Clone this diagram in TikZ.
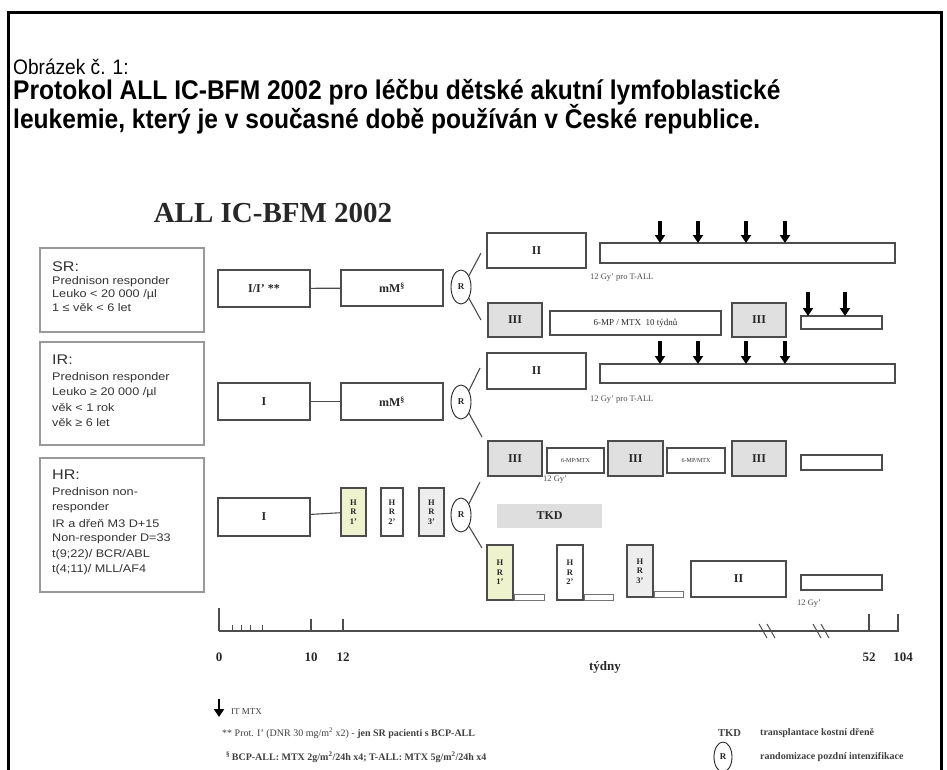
\documentclass[tikz,border=0pt]{standalone}
\usepackage{fontspec}
\setmainfont{Liberation Serif}
\newfontfamily\hdr[FakeStretch=0.91]{Liberation Sans}
\newfontfamily\lsans[FakeStretch=1.15]{Liberation Sans}
\usetikzlibrary{arrows.meta,shapes.geometric}
\definecolor{hryel}{RGB}{238,242,205}
\definecolor{ink}{RGB}{40,40,40}
\begin{document}
\begin{tikzpicture}[x=1pt,y=-1pt,
  bx/.style={draw=black!70, line width=1.1pt, fill=white, inner sep=0pt, text=ink,
             font=\fontsize{12}{12}\selectfont\bfseries},
  gbx/.style={bx, fill=black!12},
  hrbx/.style={bx, fill=hryel, align=center, font=\fontsize{8.5}{9.5}\selectfont\bfseries},
  hrw/.style={hrbx, fill=white},
  hrg/.style={hrbx, fill=black!7},
  sbar/.style={draw=black!55, line width=0.9pt, fill=white, inner sep=0pt, minimum height=6},
  rnd/.style={draw=black!85, ellipse, line width=0.9pt, minimum width=20, minimum height=34,
              inner sep=0pt, fill=white, text=ink, font=\fontsize{9}{9}\selectfont\bfseries},
  conn/.style={draw=black!70, line width=1.1pt},
  itarrow/.style={-{Triangle[length=8pt,width=10pt]}, line width=3.2pt, black},
  grp/.style={draw=black!40, line width=1.2pt, fill=white},
  grpt/.style={anchor=west, inner sep=0pt, text=black!80, font=\lsans\fontsize{11}{11}\selectfont},
  grph/.style={anchor=west, inner sep=0pt, text=black!80, font=\lsans\fontsize{14}{14}\selectfont},
  gy/.style={anchor=west, inner sep=0pt, text=black!70, font=\fontsize{8.5}{8.5}\selectfont},
  tick/.style={draw=black!70, line width=1.1pt},
  tlab/.style={inner sep=0pt, text=ink, font=\fontsize{13}{13}\selectfont\bfseries},
  leg/.style={anchor=west, inner sep=0pt, text=black!75, font=\fontsize{10}{10}\selectfont}
]
\useasboundingbox (0,0) rectangle (947,770);
% frame
\draw[line width=3pt] (8,770) -- (8,13) -- (941,13) -- (941,770);
% header
\node[anchor=west, inner sep=0pt, font=\hdr\fontsize{21}{21}\selectfont] (h1) at (13,67) {Obrázek č. 1:};
\node[anchor=west, inner sep=0pt, font=\hdr\bfseries\fontsize{27}{27}\selectfont] (h2) at (13,92) {Protokol ALL IC-BFM 2002 pro léčbu dětské akutní lymfoblastické};
\node[anchor=west, inner sep=0pt, font=\hdr\bfseries\fontsize{27}{27}\selectfont] (h3) at (13,119) {leukemie, který je v současné době používán v České republice.};
% diagram title
\node[inner sep=0pt, text=ink, font=\fontsize{29}{29}\selectfont\bfseries] (title) at (273,213) {ALL IC-BFM 2002};

% left group boxes
\draw[grp] (40,248) rectangle (204,332);
\node[grph] (sr0) at (52,267) {SR:};
\node[grpt] (sr1) at (52,282) {Prednison responder};
\node[grpt] (sr2) at (52,295) {Leuko < 20 000 /µl};
\node[grpt] (sr3) at (52,308) {1 ≤  věk < 6 let};

\draw[grp] (40,342) rectangle (204,445);
\node[grph] (ir0) at (52,360) {IR:};
\node[grpt] (ir1) at (52,378) {Prednison responder};
\node[grpt] (ir2) at (52,393) {Leuko ≥ 20 000 /µl};
\node[grpt] (ir3) at (52,408) {věk < 1 rok};
\node[grpt] (ir4) at (52,423) {věk ≥ 6 let};

\draw[grp] (40,458) rectangle (204,592);
\node[grph] (hr0) at (52,475) {HR:};
\node[grpt] (hr1) at (52,492) {Prednison non-};
\node[grpt] (hr2) at (52,508) {responder};
\node[grpt] (hr3) at (52,524) {IR a dřeň M3 D+15};
\node[grpt] (hr4) at (52,539) {Non-responder D=33};
\node[grpt] (hr5) at (52,555) {t(9;22)/ BCR/ABL};
\node[grpt] (hr6) at (52,570) {t(4;11)/ MLL/AF4};

% ---------- row SR ----------
\node[bx, minimum width=92, minimum height=37] (b11) at (264,288.5) {I/I’ **};
\node[bx, minimum width=102, minimum height=36] (b12) at (392,288) {mM\textsuperscript{§}};
\draw[conn] (b11) -- (b12);
\node[rnd] (R1) at (461,287) {R};
\coordinate (R1u) at (481,253);
\coordinate (R1d) at (481,320);
\draw[conn] (R1.55) -- (R1u);
\draw[conn] (R1.-55) -- (R1d);
\node[bx, minimum width=99, minimum height=35] (a1) at (536.5,250.5) {II};
\node[bx, minimum width=295, minimum height=20] (a2) at (747.5,253) {};
\foreach \ax in {660,698,746,785} \draw[itarrow] (\ax,221) -- (\ax,243);
\node[gy] (gy1) at (590,278) {12 Gy’ pro T-ALL};
\node[gbx, minimum width=54, minimum height=34] (a3) at (515,320) {III};
\node[bx, minimum width=171, minimum height=24, font=\fontsize{9}{9}\selectfont] (a4) at (635.5,323) {6-MP / MTX\ \ 10 týdnů};
\node[gbx, minimum width=54, minimum height=34] (a5) at (759,320) {III};
\node[bx, minimum width=81, minimum height=13] (a6) at (841.5,322.5) {};
\foreach \ax in {808,845} \draw[itarrow] (\ax,292) -- (\ax,316);

% ---------- row IR ----------
\node[bx, minimum width=92, minimum height=37] (b21) at (264,401.5) {I};
\node[bx, minimum width=102, minimum height=37] (b22) at (392,401.5) {mM\textsuperscript{§}};
\draw[conn] (b21) -- (b22);
\node[rnd] (R2) at (461,402) {R};
\coordinate (R2u) at (480,368);
\coordinate (R2d) at (482,437);
\draw[conn] (R2.55) -- (R2u);
\draw[conn] (R2.-55) -- (R2d);
\node[bx, minimum width=99, minimum height=36] (c1) at (536.5,371) {II};
\node[bx, minimum width=295, minimum height=19] (c2) at (747.5,373.5) {};
\foreach \ax in {660,698,746,785} \draw[itarrow] (\ax,341) -- (\ax,364);
\node[gy] (gy2) at (590,400) {12 Gy’ pro T-ALL};
\node[gbx, minimum width=54, minimum height=35] (c3) at (515,458.5) {III};
\node[bx, minimum width=57, minimum height=25, font=\fontsize{6}{6}\selectfont] (c4) at (575.5,460.5) {6-MP/MTX};
\node[gbx, minimum width=55, minimum height=35] (c5) at (635.5,458.5) {III};
\node[bx, minimum width=58, minimum height=25, font=\fontsize{6}{6}\selectfont] (c6) at (696,460.5) {6-MP/MTX};
\node[gbx, minimum width=54, minimum height=35] (c7) at (759,458.5) {III};
\node[bx, minimum width=81, minimum height=15] (c8) at (841.5,462.5) {};
\node[gy] (gy3) at (543,480) {12 Gy’};

% ---------- row HR ----------
\node[bx, minimum width=92, minimum height=38] (b31) at (264,517) {I};
\node[hrbx, minimum width=25, minimum height=48] (h31) at (353.5,512) {H\\R\\1’};
\node[hrw, minimum width=22, minimum height=48] (h32) at (392,512) {H\\R\\2’};
\node[hrg, minimum width=25, minimum height=48] (h33) at (431.5,512) {H\\R\\3’};
\draw[conn] (b31) -- (h31);
\node[rnd] (R3) at (461,515) {R};
\coordinate (R3u) at (480,482);
\coordinate (R3d) at (482,548);
\draw[conn] (R3.55) -- (R3u);
\draw[conn] (R3.-55) -- (R3d);
\node[fill=black!13, minimum width=105, minimum height=24, inner sep=0pt, text=ink,
      font=\fontsize{12}{12}\selectfont\bfseries] (tkd) at (549.5,516) {TKD};
\node[hrbx, minimum width=26, minimum height=55] (d1) at (500,572.5) {H\\R\\1’};
\node[sbar, minimum width=30, anchor=south west] (d1b) at (d1.south east) {};
\node[hrw, minimum width=26, minimum height=55] (d2) at (570,572.5) {H\\R\\2’};
\node[sbar, minimum width=29, anchor=south west] (d2b) at (d2.south east) {};
\node[hrg, minimum width=26, minimum height=52] (d3) at (640,571) {H\\R\\3’};
\node[sbar, minimum width=29, anchor=south west] (d3b) at (d3.south east) {};
\node[bx, minimum width=95, minimum height=36] (d4) at (738.5,579) {II};
\node[bx, minimum width=81, minimum height=15] (d5) at (841.5,582.5) {};
\node[gy] (gy4) at (797,604) {12 Gy’};

% ---------- time axis ----------
\coordinate (ax0) at (219,631);
\coordinate (ax1) at (899,631);
\draw[tick] (ax0) -- (ax1);
\draw[tick] (219,608) -- (219,631);
\foreach \tx in {232,241,250,262} \draw[tick, line width=0.8pt] (\tx,625) -- (\tx,631);
\foreach \tx in {311,343} \draw[tick] (\tx,619) -- (\tx,631);
\foreach \tx in {869,898} \draw[tick] (\tx,614) -- (\tx,631);
\foreach \bx in {763,771,817,825} \draw[tick, line width=1pt] (\bx-4,624) -- (\bx+4,638);
\node[tlab] (t0) at (219,657) {0};
\node[tlab] (t10) at (311,657) {10};
\node[tlab] (t12) at (343,657) {12};
\node[tlab] (t52) at (869,657) {52};
\node[tlab] (t104) at (903,657) {104};
\node[tlab] (tyd) at (605,667) {týdny};

% ---------- legend ----------
\draw[itarrow, line width=2.6pt] (219,699) -- (219,717);
\node[leg, font=\fontsize{9}{9}\selectfont] (l1) at (231,712) {IT MTX};
\node[leg] (l2) at (222,733) {** Prot. I’ (DNR 30 mg/m\textsuperscript{2} x2) - \textbf{jen SR pacienti s BCP-ALL}};
\node[leg, font=\fontsize{10}{10}\selectfont\bfseries] (l3) at (226,757) {\textsuperscript{§}\,BCP-ALL: MTX 2g/m\textsuperscript{2}/24h x4; T-ALL: MTX 5g/m\textsuperscript{2}/24h x4};
\node[leg, font=\fontsize{10.5}{10.5}\selectfont\bfseries] (l4) at (718,733) {TKD};
\node[leg, font=\fontsize{10}{10}\selectfont\bfseries] (l5) at (760,733) {transplantace kostní dřeně};
\node[rnd, minimum width=18, minimum height=30] (lr) at (723,757) {R};
\node[leg, font=\fontsize{10}{10}\selectfont\bfseries] (l6) at (760,757) {randomizace pozdní intenzifikace};
\end{tikzpicture}
\end{document}
